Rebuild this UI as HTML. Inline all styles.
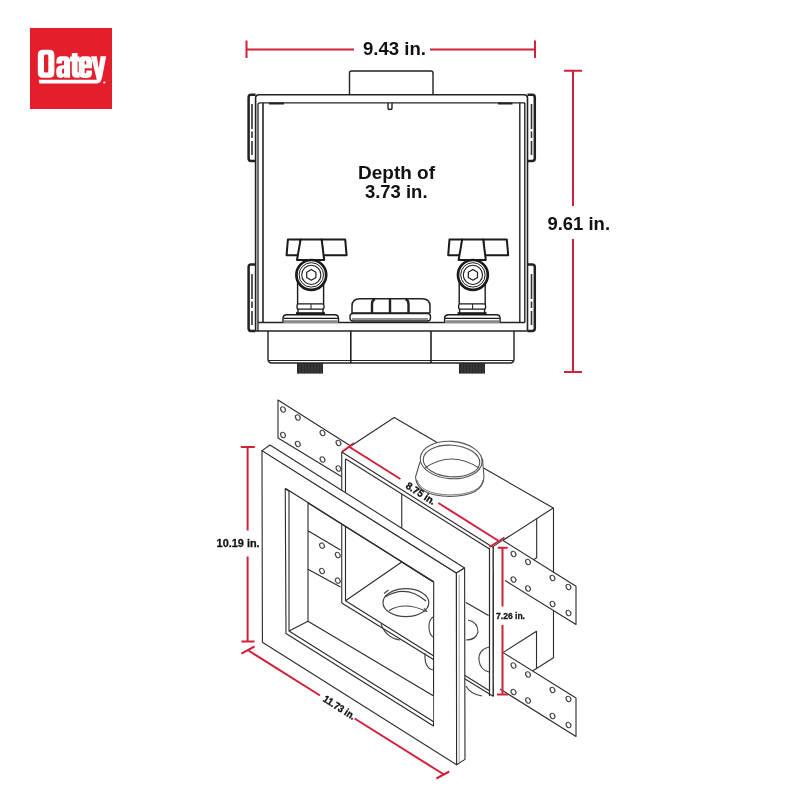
<!DOCTYPE html>
<html><head><meta charset="utf-8">
<style>
html,body{margin:0;padding:0;background:#fff;width:800px;height:800px;overflow:hidden}
svg{display:block;will-change:transform}
text{font-family:"Liberation Sans",sans-serif;font-weight:bold;fill:#111}
</style></head><body>
<svg width="800" height="800" viewBox="0 0 800 800">
<rect width="800" height="800" fill="#fff"/>

<!-- LOGO -->
<g id="logo">
<rect x="30" y="28" width="82" height="81" fill="#E41E2B"/>
<g fill="#fff" fill-rule="evenodd">
  <!-- O -->
  <path d="M43 49.7 H49.2 Q54.4 49.7 54.4 55 V72.4 Q54.4 77.7 49.2 77.7 H43 Q37.8 77.7 37.8 72.4 V55 Q37.8 49.7 43 49.7 Z M45.3 54.5 Q44 54.5 44 56 V71 Q44 72.5 45.3 72.5 H47 Q48.3 72.5 48.3 71 V56 Q48.3 54.5 47 54.5 Z"/>
  <!-- a -->
  <path d="M61 56.3 H65.5 Q70.1 56.3 70.1 61 V77.7 H64.2 V76.3 Q63 77.9 60.5 77.9 Q56.3 77.9 56.3 73 V70 Q56.3 66 61 65.5 L64 65 V62 Q64 60.6 63 60.6 Q62 60.6 62 62 V63.5 H56.4 V61 Q56.4 56.3 61 56.3 Z M64 68.5 L63 68.8 Q62 69.1 62 70.5 V72.5 Q62 73.8 63 73.8 Q64 73.8 64 72.5 Z"/>
  <!-- t -->
  <path d="M71.8 53 H77.6 V56.6 H79.6 V61.5 H77.6 V71.6 Q77.6 72.6 78.6 72.6 H79.6 V77.7 H76.5 Q71.8 77.7 71.8 73 V61.5 H70.1 V56.6 H71.8 Z"/>
  <!-- e -->
  <path d="M83.5 56.3 H87.2 Q92 56.3 92 61 V68.2 H84.6 V72 Q84.6 73.3 85.5 73.3 Q86.3 73.3 86.3 72 V70.5 H92 V73 Q92 77.9 87.2 77.9 H83.5 Q78.7 77.9 78.7 73 V61 Q78.7 56.3 83.5 56.3 Z M84.6 64.6 H86.3 V62 Q86.3 60.8 85.5 60.8 Q84.6 60.8 84.6 62 Z"/>
  <!-- y -->
  <path d="M91 56.3 H96.8 L98.7 68.5 L100.5 56.3 H106.2 L102.2 77 Q100.9 83.5 97 83.5 H39.4 L38.7 79.8 H96.3 Q96.8 79.8 96.7 79.2 Z"/>
</g>
<circle cx="104.3" cy="82.5" r="1.1" fill="#fff"/>
</g>

<!-- DIMENSIONS TOP VIEW -->
<g stroke="#D2213B" stroke-width="2" fill="none">
<path d="M246.5 40.5 V58 M246.5 49.5 H354 M430 49.5 H535 M535 40.5 V58"/>
<path d="M564 70.8 H582 M573 70.8 V206 M573 239 V372 M564 372 H582"/>
</g>
<text x="363" y="55" font-size="18" textLength="63" lengthAdjust="spacingAndGlyphs">9.43 in.</text>
<text x="547.5" y="229.5" font-size="18" textLength="62.5" lengthAdjust="spacingAndGlyphs">9.61 in.</text>
<text x="358" y="179" font-size="18" textLength="77" lengthAdjust="spacingAndGlyphs">Depth of</text>
<text x="365" y="197.5" font-size="18" textLength="62.5" lengthAdjust="spacingAndGlyphs">3.73 in.</text>

<!-- TOP VIEW BOX -->
<g id="topview" stroke="#222" stroke-width="1.3" fill="none" stroke-linejoin="round">
  <!-- nub -->
  <path d="M349.5 94 V73 Q349.5 71 351.5 71 H431 Q433 71 433 73 V94" stroke-width="1.4"/>
  <!-- outer box -->
  <path d="M255.6 331 V98 Q255.6 94.7 259 94.7 H524 Q527.5 94.7 527.5 98 V331" stroke-width="1.6"/>
  <path d="M255.6 331 H527.5" stroke-width="1.6"/>
  <!-- inner top -->
  <path d="M258 331 V104 Q258 102.8 260 102.8 H525 " stroke-width="1.3"/>
  <path d="M263 322.5 V103" stroke-width="1.6"/>
  <path d="M519.8 322.5 V103 M524.8 322.5 V103" stroke-width="1.4"/>
  <path d="M258 322.5 H525" stroke-width="1.4"/>
  <!-- notches top -->
  <path d="M269 103.5 H284 M498 103.5 H512.5" stroke-width="2"/>
  <path d="M388 103 V108 Q388 109.5 390 109.5 Q392 109.5 392 108 V103" stroke-width="1.4"/>
  <!-- brackets -->
  <path d="M255.6 94.8 H251 Q248.6 94.8 248.6 97.5 V158.3 Q248.6 161 251 161 H255.6" stroke-width="2.5"/>
  <path d="M255.6 264.5 H251 Q248.6 264.5 248.6 267.2 V328.3 Q248.6 331 251 331 H255.6" stroke-width="2.5"/>
  <path d="M527.5 94.8 H532.3 Q534.8 94.8 534.8 97.5 V158.3 Q534.8 161 532.3 161 H527.5" stroke-width="2.5"/>
  <path d="M527.5 264.5 H532.3 Q534.8 264.5 534.8 267.2 V328.3 Q534.8 331 532.3 331 H527.5" stroke-width="2.5"/>
  <path d="M252 104 V129 M252 131.5 V138 M252 141 V155 M252 274 V299 M252 301.5 V308 M252 311 V325 M531.5 104 V129 M531.5 131.5 V138 M531.5 141 V155 M531.5 274 V299 M531.5 301.5 V308 M531.5 311 V325" stroke-width="1.6" stroke="#333"/>
  <!-- base below -->
  <path d="M268 331 V359 Q268 363 272 363 H510 Q514 363 514 359 V331" stroke-width="1.4"/>
  <path d="M350.8 331 V363 M431 331 V363" stroke-width="1.6"/>
  <path d="M268 360.5 H514" stroke-width="1"/>
  <!-- drain cap -->
  <path d="M352 313 V306 Q352 298.7 360 298.7 H422 Q430 298.7 430 306 V313" stroke-width="1.5"/>
  <path d="M372 313 V304 Q372 300 375 299 M390 313 V299 M408.5 313 V304 Q408.5 300 405.5 299" stroke-width="2.4"/>
  <path d="M352 313 H430" stroke-width="1.6"/>
  <rect x="350" y="313.5" width="80.5" height="7.5" rx="3" stroke-width="1.4"/>
  <path d="M352 319 H428" stroke-width="1"/>
</g>

<!-- valves -->
<g id="valveL" stroke="#1a1a1a" stroke-width="1.4" fill="#fff" stroke-linejoin="round">
  <path d="M297.6 270 V304 M323.6 270 V304" fill="none"/>
  <path d="M287.9 239.4 H300.6 L299.3 255.2 H286.6 Z" stroke-width="2"/>
  <path d="M321.6 239.4 H345.2 L346.6 255.2 H323 Z" stroke-width="2"/>
  <path d="M300.6 239.4 H321.6 L324.2 260 H297 Z" stroke-width="2"/>
  <circle cx="311.3" cy="274.9" r="14.9" stroke-width="2.7"/>
  <circle cx="311.3" cy="274.9" r="12.2" stroke-width="1"/>
  <circle cx="311.3" cy="274.9" r="9.6" stroke-width="1.1"/>
  <path d="M311.3 269.6 L315.9 272.25 V277.55 L311.3 280.2 L306.7 277.55 V272.25 Z" stroke-width="1.2"/>
  <rect x="297" y="303.8" width="27" height="5.4" rx="2" stroke-width="1.3"/>
  <path d="M311 303.8 V309.2" fill="none" stroke-width="1"/>
  <path d="M298 309.2 V313 M323 309.2 V313" fill="none"/>
  <path d="M296 313.2 H325" fill="none" stroke-width="2"/>
  <path d="M283 322.6 V318.5 Q283 314.75 287 314.75 H334.5 Q338.5 314.75 338.5 318.5 V322.6" />
  <path d="M283.5 318.4 H338" fill="none" stroke-width="1.1"/>
  <path d="M284 321.2 H337.5" fill="none" stroke="#888" stroke-width="2"/>
</g>
<use href="#valveL" transform="translate(161.6 0)"/>

<!-- threaded stubs -->
<g fill="#2a2a2a">
  <rect x="297" y="363" width="26" height="10.6"/>
  <rect x="459" y="363" width="26" height="10.6"/>
</g>
<g stroke="#555" stroke-width="0.6">
  <path d="M300 364 V373 M303 364 V373 M306 364 V373 M309 364 V373 M312 364 V373 M315 364 V373 M318 364 V373 M321 364 V373"/>
  <path d="M462 364 V373 M465 364 V373 M468 364 V373 M471 364 V373 M474 364 V373 M477 364 V373 M480 364 V373 M483 364 V373"/>
</g>

<!-- ISOMETRIC VIEW -->
<g id="iso" stroke="#2b2b2b" stroke-width="1.1" fill="none" stroke-linejoin="round">
  <!-- back-left bracket -->
  <path d="M349.5 445.3 L278 400 L278 438 L341.75 476.8" fill="#fff"/>
  <g stroke="#444" stroke-width="1.15">
  <ellipse cx="283" cy="409.5" rx="2.2" ry="2.8" transform="rotate(-30 283 409.5)"/><ellipse cx="297.8" cy="417.5" rx="2.2" ry="2.8" transform="rotate(-30 297.8 417.5)"/>
  <ellipse cx="322.5" cy="433" rx="2.2" ry="2.8" transform="rotate(-30 322.5 433)"/><ellipse cx="338.5" cy="443" rx="2.2" ry="2.8" transform="rotate(-30 338.5 443)"/>
  <ellipse cx="283" cy="435" rx="2.2" ry="2.8" transform="rotate(-30 283 435)"/><ellipse cx="297.8" cy="444" rx="2.2" ry="2.8" transform="rotate(-30 297.8 444)"/>
  <ellipse cx="322.5" cy="459.5" rx="2.2" ry="2.8" transform="rotate(-30 322.5 459.5)"/><ellipse cx="338.5" cy="468.5" rx="2.2" ry="2.8" transform="rotate(-30 338.5 468.5)"/>
  </g>
  <!-- box solid: top face, right face, front -->
  <path d="M341.75 452 L394.25 417.5 L553.25 508 L553.5 657.75 L532.5 671 L493.5 696 L341.75 601 Z" fill="#fff" stroke="none"/>
  <path d="M341.75 452 L394.25 417.5 L438 443"/>
  <path d="M483.5 468 L553.25 508 L492.5 547"/>
  <path d="M341.75 452 L492.5 547"/>
  <path d="M345.5 458.75 L489.5 549"/>
  <path d="M341.75 452 V603 M345.5 459 V601"/>
  <path d="M489.5 548 V696 M493.25 547 V696"/>
  <path d="M401.75 494 V562"/>
  <path d="M553.5 508 V657.75 L532.5 671"/>
  <path d="M536.7 519 V557.75 L533 560"/>
  <path d="M503 652.6 L536.5 631.25 V668"/>
  <!-- interior -->
  <path d="M308 530.75 L340.5 550 M308 569.25 L340.5 587"/>
  <path d="M345.5 600.75 L401.75 562 L433.25 582"/>
  <path d="M345.5 600.75 L489 690.5 M341.75 603 L493.5 696.5"/>
  <path d="M465.9 602.5 L488.6 615.5"/>
  <g stroke="#444" stroke-width="1.1">
  <ellipse cx="322" cy="545.6" rx="2.2" ry="2.8" transform="rotate(-30 322 545.6)"/><ellipse cx="337.75" cy="555" rx="2.2" ry="2.8" transform="rotate(-30 337.75 555)"/>
  <ellipse cx="322" cy="571" rx="2.2" ry="2.8" transform="rotate(-30 322 571)"/><ellipse cx="337.75" cy="580.6" rx="2.2" ry="2.8" transform="rotate(-30 337.75 580.6)"/>
  <ellipse cx="405.9" cy="602.7" rx="22.9" ry="14" stroke-width="1.2"/>
  <path d="M385 597 Q406 584 426 601" stroke-width="1.2"/>
  <path d="M389 610.5 Q405 601 426.5 611.5" stroke-width="1.2"/>
  <path d="M384 593.5 L388.5 590 M424 608 L427 612"/>
  <path d="M381 624 Q386 638 400 640"/>
  <path d="M425 653 Q424 668 433 670"/>
  <path d="M433 617 Q428.5 620 429 628 Q429.5 635 433 637"/>
  <path d="M468 620 Q478 622 478 632 Q476 640 466 640"/>
  <path d="M489 647 Q478 650 479 660 Q480 670 489 672"/>
  <path d="M466 686 Q470 694 482 696"/>
  </g>
  <!-- right brackets -->
  <path d="M493.5 547 L503 540.5 L576 586.25 V624.5 L493.5 573.5 Z" fill="#fff" stroke="none"/>
  <path d="M503 540.5 L576 586.25 V624.5 L505 580.5"/>
  <path d="M493.5 659 L503 652.6 L576 698 V736.5 L493.5 686 Z" fill="#fff" stroke="none"/>
  <path d="M503 652.6 L576 698 V736.5 L500 689"/>
  <g stroke="#444" stroke-width="1.15">
  <ellipse cx="513.5" cy="554" rx="2.2" ry="2.8" transform="rotate(-30 513.5 554)"/><ellipse cx="528" cy="562" rx="2.2" ry="2.8" transform="rotate(-30 528 562)"/>
  <ellipse cx="552.5" cy="578" rx="2.2" ry="2.8" transform="rotate(-30 552.5 578)"/><ellipse cx="568.5" cy="587" rx="2.2" ry="2.8" transform="rotate(-30 568.5 587)"/>
  <ellipse cx="513.5" cy="579.5" rx="2.2" ry="2.8" transform="rotate(-30 513.5 579.5)"/><ellipse cx="528" cy="588.5" rx="2.2" ry="2.8" transform="rotate(-30 528 588.5)"/>
  <ellipse cx="552.5" cy="604" rx="2.2" ry="2.8" transform="rotate(-30 552.5 604)"/><ellipse cx="568.5" cy="613" rx="2.2" ry="2.8" transform="rotate(-30 568.5 613)"/>
  <ellipse cx="513.5" cy="665.5" rx="2.2" ry="2.8" transform="rotate(-30 513.5 665.5)"/><ellipse cx="528" cy="674.5" rx="2.2" ry="2.8" transform="rotate(-30 528 674.5)"/>
  <ellipse cx="552.5" cy="690" rx="2.2" ry="2.8" transform="rotate(-30 552.5 690)"/><ellipse cx="568.5" cy="699" rx="2.2" ry="2.8" transform="rotate(-30 568.5 699)"/>
  <ellipse cx="513.5" cy="692" rx="2.2" ry="2.8" transform="rotate(-30 513.5 692)"/><ellipse cx="528" cy="700.5" rx="2.2" ry="2.8" transform="rotate(-30 528 700.5)"/>
  <ellipse cx="552.5" cy="716" rx="2.2" ry="2.8" transform="rotate(-30 552.5 716)"/><ellipse cx="568.5" cy="725" rx="2.2" ry="2.8" transform="rotate(-30 568.5 725)"/>
  </g>
  <path d="M489.5 548 V696 M493.25 547 V696"/>
  <!-- collar -->
  <g stroke="#555" stroke-width="1.1">
    <path d="M420 462 L415.5 477 Q417 496 450 496.5 Q483 496 484 477 L482.5 459 Z" fill="#fff"/>
    <path d="M417 480 Q421 494 450 495 Q481 494 483 480" stroke-width="0.8"/>
    <ellipse cx="451.2" cy="460" rx="31" ry="18.7" transform="rotate(4 451.2 460)" fill="#fff"/>
    <ellipse cx="451.5" cy="461" rx="28.3" ry="15.8" transform="rotate(4 451.5 461)"/>
    <path d="M425 468 Q451 450 479 468"/>
  </g>
  <!-- frame -->
  <path fill-rule="evenodd" fill="#fff" d="M262 450.6 L456.4 573 L456.6 764.75 L262.4 642.25 Z M285.25 488.75 L433.7 582 L433.5 726 L286 633.5 Z"/>
  <path fill="#fff" d="M262 450.6 L270 445 L464.6 568 L456.4 573 Z"/>
  <path fill="#fff" d="M456.4 573 L464.6 568 L465 759.4 L456.6 764.75 Z"/>
  <path d="M459.2 574.5 V763" stroke="#999" stroke-width="0.9"/>
  <!-- sleeve -->
  <path fill="#fff" stroke="none" d="M289 490.9 L308 502 L308 621.25 L289 631 Z"/>
  <path fill="#fff" stroke="none" d="M289 631 L308 621.25 L433.25 695.7 L433.25 721.5 Z"/>
  <path d="M289 490.9 V631 L433.25 721.5"/>
  <path d="M308 502 V621.25 L433.25 695.7 M289 631 L308 621.25"/>
  <path d="M285.25 488.25 L433.7 581.8"/>
</g>

<!-- iso dims -->
<g stroke="#D2213B" stroke-width="2" fill="none">
  <path d="M240.8 447 H254.8 M247.6 447 V530.6 M247.6 556.5 V641.4 M241.4 641.4 H254.5"/>
  <path d="M241.4 653.6 L254.5 646.5 M248.4 650.5 L320 695.5 M354.6 718.5 L443.9 774.5 M436.4 778.5 L449.2 771.5"/>
  <path d="M342.5 451.5 L354 443 M348.75 446.5 L400.4 479 M438.4 503 L498 540.5 M489.5 547 L504.5 537.5"/>
  <path d="M497.7 547.7 H507.75 M502.5 547.7 V606.5 M502.5 625 V694.5 M497 694.5 H508"/>
</g>
<text x="216.6" y="547.4" font-size="11.5" textLength="43" lengthAdjust="spacingAndGlyphs" stroke="#111" stroke-width="0.3">10.19 in.</text>
<text x="496" y="619" font-size="9.3" textLength="29" lengthAdjust="spacingAndGlyphs" stroke="#111" stroke-width="0.3">7.26 in.</text>
<text x="0" y="0" font-size="10.3" textLength="33" lengthAdjust="spacingAndGlyphs" stroke="#111" stroke-width="0.35" transform="translate(405 487.6) rotate(32.5)">8.75 in.</text>
<text x="0" y="0" font-size="10.3" textLength="36" lengthAdjust="spacingAndGlyphs" stroke="#111" stroke-width="0.35" transform="translate(322.3 700.8) rotate(32.5)">11.73 in.</text>

</svg>
</body></html>
